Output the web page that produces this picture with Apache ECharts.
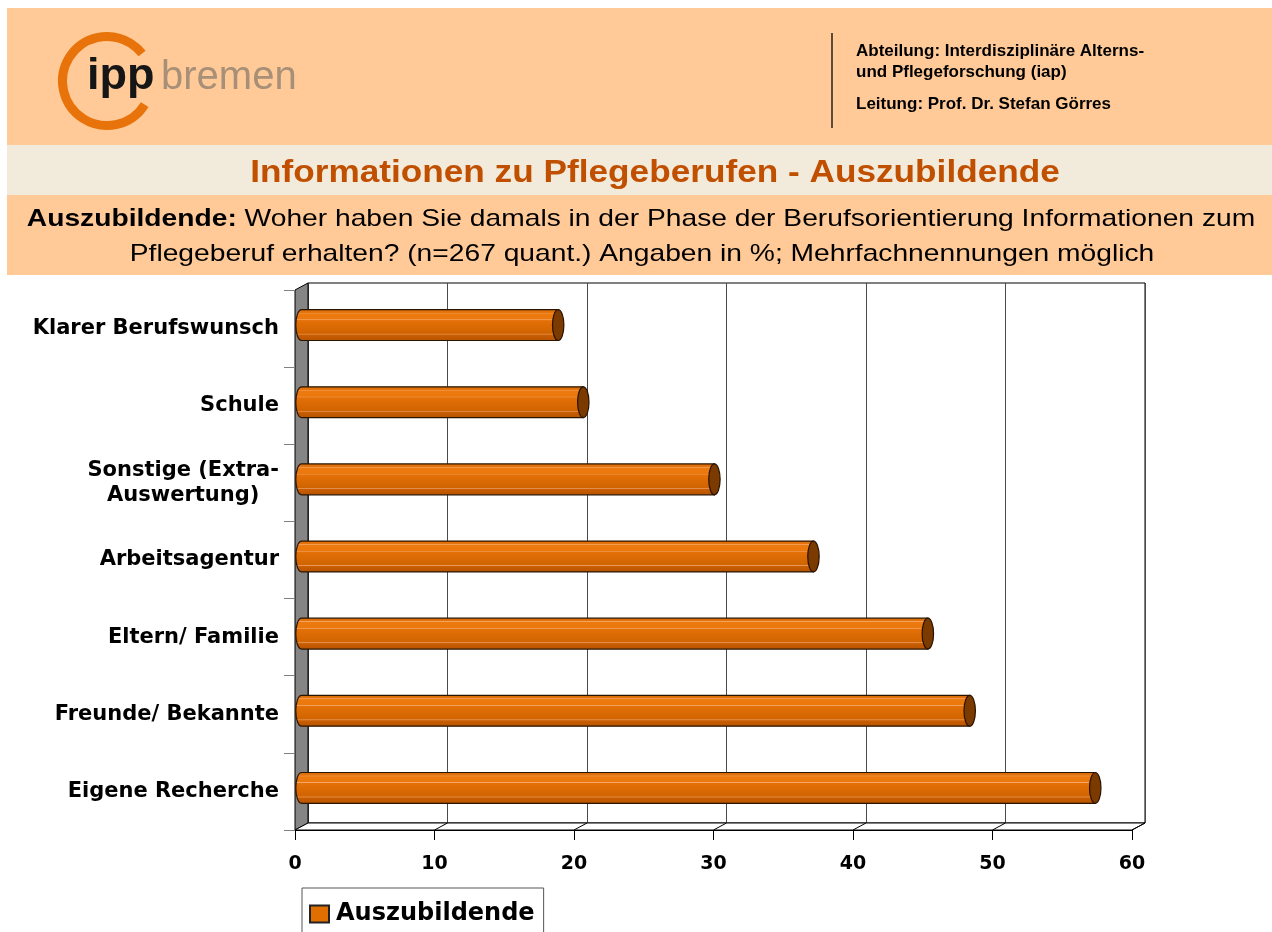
<!DOCTYPE html>
<html>
<head>
<meta charset="utf-8">
<title>Informationen zu Pflegeberufen - Auszubildende</title>
<script src="https://cdn.jsdelivr.net/npm/echarts@6/dist/echarts.min.js"></script>
<style>
  html, body { margin: 0; padding: 0; background: #fff; }
  #chart { width: 1272px; height: 932px; }
</style>
</head>
<body>
<div id="chart"></div>
<script>
// data (top to bottom, as in the picture)
const categories = [
  'Klarer Berufswunsch',
  'Schule',
  'Sonstige (Extra-\nAuswertung)',
  'Arbeitsagentur',
  'Eltern/ Familie',
  'Freunde/ Bekannte',
  'Eigene Recherche'
]
const values = [18.4, 20.2, 29.6, 36.7, 44.9, 47.9, 56.9]
const seriesName = 'Auszubildende'
const xTicks = [0, 10, 20, 30, 40, 50, 60]

// layout of the fake 3d box
const FRONT = { left: 295, top: 290, width: 837, height: 540 }
const DX = 13, DY = 7   // depth offset of the back wall

const chart = echarts.init(document.getElementById('chart'))

const renderCylinder = (params, api) => {
  const idx = api.value(0)
  const val = api.value(1)
  const p0 = api.coord([0, idx])
  const p1 = api.coord([val, idx])
  const band = api.size([0, 1])[1]
  const ry = band * 0.2
  const rx = ry * 0.37
  const cy = p0[1] - DY / 2
  const x0 = p0[0] + DX / 2
  const x1 = p1[0] + DX / 2
  const top = cy - ry, bot = cy + ry
  const body = `M${x0} ${top} L${x1} ${top} L${x1} ${bot} L${x0} ${bot} A${rx} ${ry} 0 0 1 ${x0} ${top} Z`
  const cap = `M${x1 - rx} ${cy} A${rx} ${ry} 0 1 0 ${x1 + rx} ${cy} A${rx} ${ry} 0 1 0 ${x1 - rx} ${cy} Z`
  return {
    type: 'group',
    children: [
      {
        type: 'path',
        shape: { pathData: body },
        style: {
          fill: {
            type: 'linear', x: 0, y: 0, x2: 0, y2: 1,
            colorStops: [
              { offset: 0, color: '#d66800' },
              { offset: 0.11, color: '#e67510' },
              { offset: 0.12, color: '#f4a464' },
              { offset: 0.15, color: '#ec7a0e' },
              { offset: 0.32, color: '#ea780c' },
              { offset: 0.33, color: '#f6aa6c' },
              { offset: 0.36, color: '#e47008' },
              { offset: 0.76, color: '#d06400' },
              { offset: 0.78, color: '#e8975c' },
              { offset: 0.81, color: '#ca5e00' },
              { offset: 1, color: '#b45200' }
            ]
          },
          stroke: '#2a1500',
          lineWidth: 1.2
        }
      },
      {
        type: 'path',
        shape: { pathData: cap },
        style: { fill: '#7a3a00', stroke: '#2a1200', lineWidth: 1.2 }
      }
    ]
  }
}

const option = {
  animation: false,
  backgroundColor: '#fff',
  textStyle: { fontFamily: 'DejaVu Sans' },
  grid: [
    { left: FRONT.left, top: FRONT.top, width: FRONT.width, height: FRONT.height },
    {
      left: FRONT.left + DX, top: FRONT.top - DY, width: FRONT.width, height: FRONT.height,
      show: true, borderColor: '#000', borderWidth: 1, backgroundColor: 'transparent'
    }
  ],
  xAxis: [
    {
      gridIndex: 0, type: 'value', min: 0, max: 60, interval: 10,
      axisLine: { show: true, lineStyle: { color: '#000', width: 1 } },
      axisTick: { show: true, length: 10, lineStyle: { color: '#000' } },
      axisLabel: {
        margin: 25, color: '#000', fontFamily: 'DejaVu Sans', fontWeight: 'bold', fontSize: 19,
        formatter: v => xTicks.includes(v) ? String(v) : ''
      },
      splitLine: { show: false }
    },
    {
      gridIndex: 1, type: 'value', min: 0, max: 60, interval: 10,
      axisLine: { show: false }, axisTick: { show: false }, axisLabel: { show: false },
      splitLine: { show: true, lineStyle: { color: '#4a4a4a', width: 1 } }
    }
  ],
  yAxis: [
    {
      gridIndex: 0, type: 'category', inverse: true, data: categories,
      axisLine: { show: false },
      axisTick: { show: true, length: 11, interval: 0, lineStyle: { color: '#808080' } },
      axisLabel: {
        margin: 16, interval: 0, color: '#000', fontFamily: 'DejaVu Sans', fontWeight: 'bold', fontSize: 21,
        lineHeight: 25,
        formatter: v => v.includes('\n') ? v.split('\n').map(s => `{c|${s}}`).join('\n') : v,
        rich: {
          c: { align: 'center', fontFamily: 'DejaVu Sans', fontWeight: 'bold', fontSize: 21, lineHeight: 25, color: '#000' }
        }
      }
    },
    {
      gridIndex: 1, type: 'category', inverse: true, data: categories, show: false
    }
  ],
  legend: {
    data: [seriesName],
    left: 302, top: 888,
    padding: [14, 9, 14, 7],
    itemWidth: 19, itemHeight: 17, itemGap: 0,
    icon: 'rect',
    backgroundColor: '#fff',
    borderColor: '#555', borderWidth: 1,
    textStyle: { fontFamily: 'DejaVu Sans', fontWeight: 'bold', fontSize: 24, color: '#000', padding: [0, 0, 0, 2] }
  },
  series: [
    {
      name: seriesName,
      type: 'custom',
      xAxisIndex: 0, yAxisIndex: 0,
      renderItem: renderCylinder,
      itemStyle: { color: '#e06e00', borderColor: '#222', borderWidth: 1 },
      encode: { x: 1, y: 0 },
      data: values.map((v, i) => [i, v]),
      z: 5
    }
  ]
}

chart.setOption(option)

// static decoration: header bands, logo, 3d walls and floor
const fx = v => chart.convertToPixel({ xAxisIndex: 0 }, v)
const fBottom = FRONT.top + FRONT.height
const fLeft = FRONT.left
const fRight = FRONT.left + FRONT.width

const graphic = [
  { type: 'rect', shape: { x: 7, y: 8, width: 1265, height: 137 }, style: { fill: '#ffca98' }, z: -10 },
  { type: 'rect', shape: { x: 7, y: 145, width: 1265, height: 50 }, style: { fill: '#f2eada' }, z: -10 },
  { type: 'rect', shape: { x: 7, y: 195, width: 1265, height: 80 }, style: { fill: '#ffca98' }, z: -10 },
  // logo
  {
    type: 'arc',
    shape: { cx: 107, cy: 81, r: 44.5, startAngle: 32 * Math.PI / 180, endAngle: 322 * Math.PI / 180, clockwise: true },
    style: { stroke: '#e8730a', lineWidth: 9, fill: null }
  },
  {
    type: 'text', x: 87, y: 77,
    style: { text: 'ipp', font: 'bold 45px "Liberation Sans"', fill: '#161616', verticalAlign: 'middle', align: 'left' }
  },
  {
    type: 'text', x: 161, y: 78,
    style: { text: 'bremen', font: '40px "Liberation Sans"', fill: '#a88f77', verticalAlign: 'middle', align: 'left' }
  },
  // header right
  { type: 'line', shape: { x1: 832, y1: 33, x2: 832, y2: 128 }, style: { stroke: '#5c4a3a', lineWidth: 2 } },
  {
    type: 'text', x: 856, y: 51,
    style: { text: 'Abteilung: Interdisziplinäre Alterns-', font: 'bold 17px "Liberation Sans"', fill: '#000', verticalAlign: 'middle' }
  },
  {
    type: 'text', x: 856, y: 72,
    style: { text: 'und Pflegeforschung (iap)', font: 'bold 17px "Liberation Sans"', fill: '#000', verticalAlign: 'middle' }
  },
  {
    type: 'text', x: 856, y: 104,
    style: { text: 'Leitung: Prof. Dr. Stefan Görres', font: 'bold 17px "Liberation Sans"', fill: '#000', verticalAlign: 'middle' }
  },
  // title and question
  {
    type: 'text', x: 655, y: 173, scaleX: 1.1,
    style: {
      text: 'Informationen zu Pflegeberufen - Auszubildende',
      font: 'bold 32px "Liberation Sans"', fill: '#c04f00', align: 'center', verticalAlign: 'middle'
    }
  },
  {
    type: 'text', x: 641, y: 219, scaleX: 1.175,
    style: {
      text: '{b|Auszubildende:} Woher haben Sie damals in der Phase der Berufsorientierung Informationen zum',
      font: '24px "Liberation Sans"', fill: '#000', align: 'center', verticalAlign: 'middle',
      rich: { b: { font: 'bold 24px "Liberation Sans"', fill: '#000' } }
    }
  },
  {
    type: 'text', x: 642, y: 254, scaleX: 1.175,
    style: {
      text: 'Pflegeberuf erhalten? (n=267 quant.) Angaben in %; Mehrfachnennungen möglich',
      font: '24px "Liberation Sans"', fill: '#000', align: 'center', verticalAlign: 'middle'
    }
  },
  // left side wall
  {
    type: 'polygon',
    shape: { points: [[fLeft, FRONT.top], [fLeft + DX, FRONT.top - DY], [fLeft + DX, fBottom - DY], [fLeft, fBottom]] },
    style: { fill: '#858585', stroke: '#000', lineWidth: 1 }
  },
  // floor
  {
    type: 'polygon',
    shape: { points: [[fLeft, fBottom], [fLeft + DX, fBottom - DY], [fRight + DX, fBottom - DY], [fRight, fBottom]] },
    style: { fill: '#fff', stroke: '#000', lineWidth: 1 }
  }
]
xTicks.slice(1).forEach(v => {
  const x = fx(v)
  graphic.push({
    type: 'line',
    shape: { x1: x, y1: fBottom, x2: x + DX, y2: fBottom - DY },
    style: { stroke: '#000', lineWidth: 1 }
  })
})

chart.setOption({ graphic })
</script>
</body>
</html>
